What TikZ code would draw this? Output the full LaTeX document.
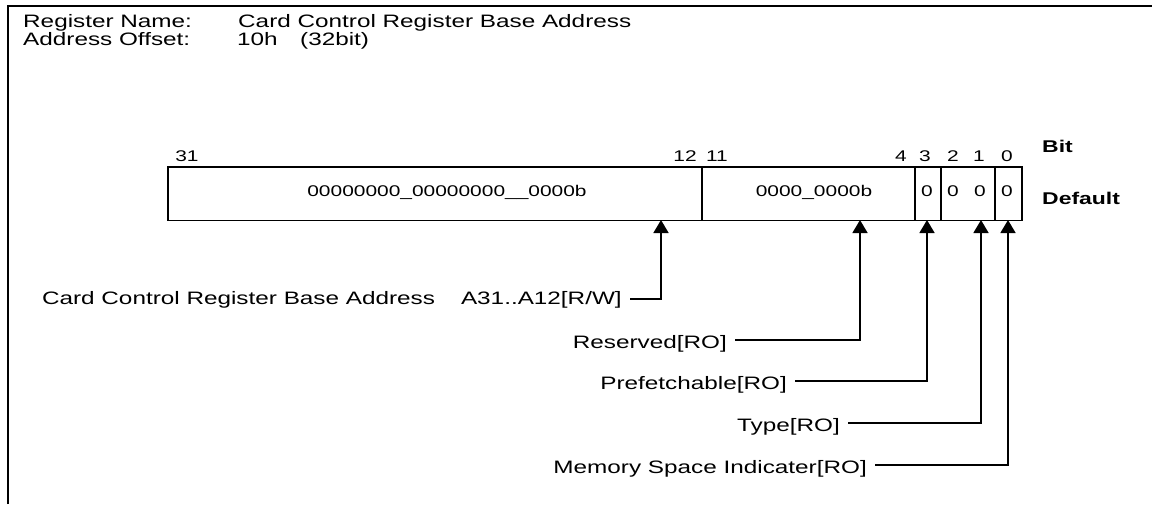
\documentclass[tikz,border=0pt]{standalone}
\usepackage{fontspec}
\setmainfont[FakeStretch=1.35]{Liberation Sans}
\usetikzlibrary{arrows.meta,positioning}

\begin{document}
\begin{tikzpicture}[
        x=1pt, y=-1pt,
        txt/.style={font=\fontsize{18}{20}\selectfont, inner sep=0pt},
        num/.style={font=\fontsize{15.5}{18}\selectfont, inner sep=0pt, anchor=base},
        head/.style={font=\fontsize{17}{19}\selectfont\bfseries, inner sep=0pt, anchor=base west},
        field/.style={rectangle, draw, line width=1.6pt, minimum height=53.5pt, inner sep=0pt, anchor=north west},
        pointer/.style={-{Triangle[width=15pt,length=13pt]}, line width=1.6pt}
    ]
    \useasboundingbox (0,0) rectangle (1152,504);

    % Frame
    \draw[line width=2pt] (8,504) -- (8,6) -- (1152,6);

    % Header
    \node[txt, anchor=base west] (reg_name) at (23,27) {Register Name:};
    \node[txt, anchor=base west] (reg_title) at (238,27) {Card Control Register Base Address};
    \node[txt, anchor=base west] (addr_off) at (23,45) {Address Offset:};
    \node[txt, anchor=base west] (addr_val) at (237,45) {10h};
    \node[txt, anchor=base west] (addr_width) at (300,45) {(32bit)};

    % Register fields
    \node[field, minimum width=534pt] (f_base) at (167,166) {};
    \node[field, minimum width=213pt] (f_rsvd) at (701,166) {};
    \node[field, minimum width=26pt] (f_pref) at (914,166) {};
    \node[field, minimum width=54pt] (f_type) at (940,166) {};
    \node[field, minimum width=27pt] (f_mem) at (994,166) {};

    % Default values
    \node[num] (v_base) at (447,196) {00000000\_00000000\_\_0000b};
    \node[num] (v_rsvd) at (814,196) {0000\_0000b};
    \node[num] (v_pref) at (927,196) {0};
    \node[num] (v_type2) at (953,196) {0};
    \node[num] (v_type1) at (980,196) {0};
    \node[num] (v_mem) at (1007,196) {0};

    % Bit numbers
    \node[num] (b31) at (187,161) {31};
    \node[num] (b12) at (685,161) {12};
    \node[num] (b11) at (717,161) {11};
    \node[num] (b4) at (901,161) {4};
    \node[num] (b3) at (925,161) {3};
    \node[num] (b2) at (953,161) {2};
    \node[num] (b1) at (979,161) {1};
    \node[num] (b0) at (1007,161) {0};

    \node[head] (bit_hd) at (1042,152) {Bit};
    \node[head] (def_hd) at (1042,204) {Default};

    % Arrow tips on the register
    \coordinate (p_base) at (661,220);
    \coordinate (p_rsvd) at (860,220);
    \coordinate (p_pref) at (927,220);
    \coordinate (p_type) at (981,220);
    \coordinate (p_mem) at (1008,220);

    % Line ends beside the labels
    \coordinate (t_base) at (630,299);
    \coordinate (t_rsvd) at (735,340);
    \coordinate (t_pref) at (795,381);
    \coordinate (t_type) at (848,423);
    \coordinate (t_mem) at (875,465);

    % Labels
    \node[txt, left=8pt of t_base, yshift=-1pt] (lbl_base) {Card Control Register Base Address\hspace{26pt}A31..A12[R/W]};
    \node[txt, left=8pt of t_rsvd, yshift=-4pt] (lbl_rsvd) {Reserved[RO]};
    \node[txt, left=8pt of t_pref, yshift=-4pt] (lbl_pref) {Prefetchable[RO]};
    \node[txt, left=8pt of t_type, yshift=-4pt] (lbl_type) {Type[RO]};
    \node[txt, left=8pt of t_mem, yshift=-4pt] (lbl_mem) {Memory Space Indicater[RO]};

    % Connections
    \draw[pointer] (t_base) -| (p_base);
    \draw[pointer] (t_rsvd) -| (p_rsvd);
    \draw[pointer] (t_pref) -| (p_pref);
    \draw[pointer] (t_type) -| (p_type);
    \draw[pointer] (t_mem) -| (p_mem);

\end{tikzpicture}
\end{document}
